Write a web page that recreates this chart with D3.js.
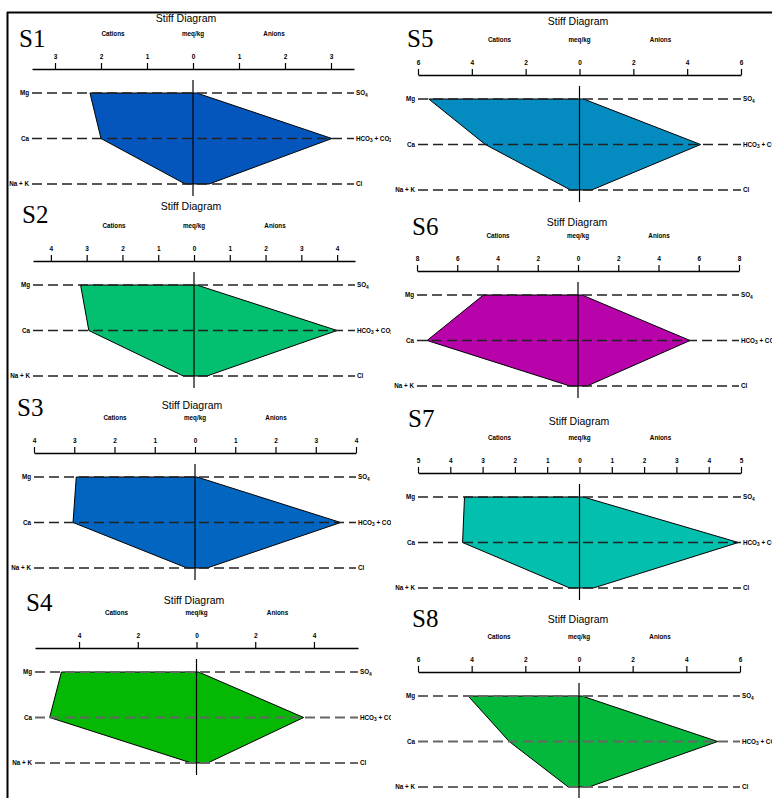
<!DOCTYPE html>
<html>
<head>
<meta charset="utf-8">
<script src="https://cdn.jsdelivr.net/npm/d3@7"></script>
<style>
  body { margin: 0; background: #fff; }
  svg { display: block; }
  text { font-family: "Liberation Sans", Arial, sans-serif; fill: #000; }
</style>
</head>
<body>
<svg></svg>
<script>
// sample names and ion names
const samples = ["S1", "S2", "S3", "S4", "S5", "S6", "S7", "S8"];
const cationNames = ["Mg", "Ca", "Na + K"];
const anionNames = ["SO4", "HCO3 + CO2", "Cl"];

// meq/kg, order Mg, Ca, Na+K
const cationValues = [
  [2.24, 2.0, 0.17],
  [3.17, 2.94, 0.3],
  [2.95, 3.03, 0.2],
  [4.6, 5.0, 0.17],
  [5.6, 3.5, 0.33],
  [4.7, 7.5, 0.4],
  [3.56, 3.62, 0.3],
  [4.13, 2.6, 0.4]
];
// meq/kg, order SO4, HCO3+CO2, Cl
const anionValues = [
  [0.08, 3.02, 0.35],
  [0.08, 4.0, 0.36],
  [0.05, 3.62, 0.3],
  [0.07, 3.65, 0.38],
  [0.15, 4.5, 0.45],
  [0.2, 5.57, 0.45],
  [0.12, 4.92, 0.43],
  [0.11, 5.17, 0.37]
];

// axis extent and tick labels for every diagram
const axisMax = [3.5, 4.5, 4, 5.5, 6, 8, 5, 6];
const tickValues = [
  [-3, -2, -1, 0, 1, 2, 3],
  [-4, -3, -2, -1, 0, 1, 2, 3, 4],
  [-4, -3, -2, -1, 0, 1, 2, 3, 4],
  [-4, -2, 0, 2, 4],
  [-6, -4, -2, 0, 2, 4, 6],
  [-8, -6, -4, -2, 0, 2, 4, 6, 8],
  [-5, -4, -3, -2, -1, 0, 1, 2, 3, 4, 5],
  [-6, -4, -2, 0, 2, 4, 6]
];

const fillColors = ["#0456bd", "#02c070", "#0266c0", "#04b804", "#048cc0", "#b802aa", "#02bfae", "#04b83c"];
// S4 and S8 were pasted with softer, greyer dash lines
const dashColors = ["#222", "#222", "#222", "#666", "#222", "#222", "#222", "#666"];

// where each pasted diagram sits on the page
const layout = [
  {x0: 32, x1: 354, ay: 69, tx: 186, ty: 18, lx: 19, ly: 47, col: 0},
  {x0: 33, x1: 355, ay: 261, tx: 191, ty: 206, lx: 22, ly: 223, col: 0},
  {x0: 34, x1: 356, ay: 453, tx: 192, ty: 405, lx: 17, ly: 416, col: 0},
  {x0: 35, x1: 358, ay: 648, tx: 194, ty: 600, lx: 26, ly: 611, col: 0},
  {x0: 418, x1: 741, ay: 75, tx: 578, ty: 21, lx: 407, ly: 47, col: 1},
  {x0: 417, x1: 739, ay: 271, tx: 577, ty: 222, lx: 412, ly: 235, col: 1},
  {x0: 418, x1: 741, ay: 473, tx: 579, ty: 421, lx: 408, ly: 427, col: 1},
  {x0: 418, x1: 740, ay: 672, tx: 578, ty: 619, lx: 412, ly: 627, col: 1}
];

const W = 772, H = 798;
const svg = d3.select("svg").attr("width", W).attr("height", H);

svg.append("defs").append("clipPath").attr("id", "leftcol")
  .append("rect").attr("x", 0).attr("y", 0).attr("width", 391).attr("height", H);

// label with subscripts: digits after letters are lowered
function chemLabel(sel, s) {
  const parts = s.match(/[A-Za-z +]+|\d+/g);
  parts.forEach(p => {
    if (/^\d+$/.test(p)) {
      sel.append("tspan").attr("font-size", "4.8px").attr("dy", 1.6).text(p);
    } else {
      const t = sel.append("tspan").text(p);
      if (sel.selectAll("tspan").size() > 1) t.attr("dy", -1.6);
    }
  });
}

samples.forEach((name, i) => {
  const L = layout[i];
  const g = svg.append("g");
  if (L.col === 0) g.attr("clip-path", "url(#leftcol)");

  const x = d3.scaleLinear().domain([-axisMax[i], axisMax[i]]).range([L.x0, L.x1]);
  const y = d3.scalePoint().domain(cationNames).range([L.ay + 24, L.ay + 115]);
  const zero = x(0);

  g.append("text").attr("x", L.tx).attr("y", L.ty).attr("dy", "0.35em")
    .attr("text-anchor", "middle").attr("font-size", "10.5px").text("Stiff Diagram");

  g.append("text").attr("x", L.lx).attr("y", L.ly)
    .style("font-family", "'Liberation Serif', 'Times New Roman', serif")
    .attr("font-size", "25px").text(name);

  [["Cations", -80], ["meq/kg", 0], ["Anions", 81]].forEach(([t, dx]) => {
    g.append("text").attr("x", zero + dx).attr("y", L.ay - 35).attr("dy", "0.35em")
      .attr("text-anchor", "middle").attr("font-size", "6.3px").attr("font-weight", "bold").text(t);
  });

  const ax = g.append("g").attr("transform", `translate(0,${L.ay})`)
    .call(d3.axisTop(x).tickValues(tickValues[i]).tickFormat(d => Math.abs(d))
      .tickSize(6).tickSizeOuter(0).tickPadding(4));
  ax.selectAll("text").attr("font-size", "6.5px").attr("font-weight", "bold")
    .style("font-family", "'Liberation Sans', Arial, sans-serif");
  ax.select(".domain").attr("stroke-width", 1.4);
  ax.selectAll(".tick line").attr("stroke-width", 1.2);

  // polygon: anions on the right going down, cations on the left going up
  const pts = anionValues[i].map((v, k) => [x(v), y(cationNames[k])])
    .concat(cationValues[i].map((v, k) => [x(-v), y(cationNames[k])]).reverse());
  g.append("path").attr("d", d3.line()(pts) + "Z")
    .attr("fill", fillColors[i]).attr("stroke", "#000").attr("stroke-width", 1);

  cationNames.forEach((c, k) => {
    const yy = y(c);
    g.append("line").attr("x1", L.x0).attr("x2", L.x1).attr("y1", yy).attr("y2", yy)
      .attr("stroke", dashColors[i]).attr("stroke-width", dashColors[i] === "#666" ? 1.8 : 1.4)
      .attr("stroke-dasharray", "10,5");
    g.append("text").attr("x", L.x0 - 3).attr("y", yy).attr("dy", "0.35em")
      .attr("text-anchor", "end").attr("font-size", "6.3px").attr("font-weight", "bold").text(c);
    const rt = g.append("text").attr("x", L.x1 + 2).attr("y", yy).attr("dy", "0.35em")
      .attr("font-size", "6.3px").attr("font-weight", "bold");
    chemLabel(rt, anionNames[k]);
  });

  g.append("line").attr("x1", zero).attr("x2", zero)
    .attr("y1", L.ay + 11).attr("y2", L.ay + 127)
    .attr("stroke", "#000").attr("stroke-width", 1.2);
});

// outer frame, top and left only
svg.append("line").attr("x1", 7).attr("x2", W).attr("y1", 12.5).attr("y2", 12.5)
  .attr("stroke", "#000").attr("stroke-width", 2);
svg.append("line").attr("x1", 7.5).attr("x2", 7.5).attr("y1", 12).attr("y2", H)
  .attr("stroke", "#000").attr("stroke-width", 2);
</script>
</body>
</html>
